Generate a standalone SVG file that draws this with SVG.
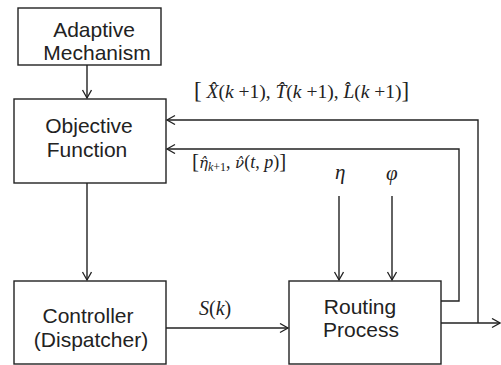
<svg xmlns="http://www.w3.org/2000/svg" width="501" height="365" viewBox="0 0 501 365">
<defs>
<marker id="arr" markerUnits="userSpaceOnUse" markerWidth="12" markerHeight="12" refX="9" refY="5" orient="auto">
<path d="M1,0.5 L9,5 L1,9.5" fill="none" stroke="#222" stroke-width="1.3"/>
</marker>
<style>
.box{fill:#fff;stroke:#222;stroke-width:1.4}
.lbl{font-family:"Liberation Sans",Arial,sans-serif;font-size:21px;fill:#222;text-anchor:middle}
.ln{fill:none;stroke:#222;stroke-width:1.4}
.m{font-family:"Liberation Serif","Times New Roman",serif;fill:#222}
.i{font-style:italic}
.dv{font-family:"DejaVu Serif",serif;font-size:15px}
</style>
</defs>
<rect width="501" height="365" fill="#fff"/>
<g id="adaptive">
<rect class="box" x="18" y="8" width="143" height="57"/>
<text class="lbl" x="94" y="37">Adaptive</text>
<text class="lbl" x="97" y="60">Mechanism</text>
</g>
<g id="objective">
<rect class="box" x="14" y="99" width="152" height="84"/>
<text class="lbl" x="89" y="133">Objective</text>
<text class="lbl" x="87" y="157">Function</text>
</g>
<g id="controller">
<rect class="box" x="14" y="281" width="152" height="83"/>
<text class="lbl" x="88" y="323">Controller</text>
<text class="lbl" x="91" y="347">(Dispatcher)</text>
</g>
<g id="routing">
<rect class="box" x="289" y="281" width="152" height="83"/>
<text class="lbl" x="360" y="314">Routing</text>
<text class="lbl" x="361" y="337">Process</text>
</g>
<g id="connectors">
<path class="ln" d="M87,65 V98" marker-end="url(#arr)"/>
<path class="ln" d="M87,183 V280" marker-end="url(#arr)"/>
<path class="ln" d="M166,328 H288" marker-end="url(#arr)"/>
<path class="ln" d="M339,196 V280" marker-end="url(#arr)"/>
<path class="ln" d="M392,196 V280" marker-end="url(#arr)"/>
<path class="ln" d="M441,301 H459 V149 H167" marker-end="url(#arr)"/>
<path class="ln" d="M478,323 V120 H167" marker-end="url(#arr)"/>
<path class="ln" d="M441,323 H500" marker-end="url(#arr)"/>
</g>
<g id="labels">
<text class="m" x="194" y="98" font-size="19.5"><tspan font-size="23">[</tspan> <tspan class="i">X̂</tspan>(<tspan class="i">k</tspan> +1), <tspan class="i">T̂</tspan>(<tspan class="i">k</tspan> +1), <tspan class="i">L̂</tspan>(<tspan class="i">k</tspan> +1)<tspan font-size="23">]</tspan></text>
<text class="m" x="192" y="168" font-size="18"><tspan font-size="21">[</tspan><tspan class="i dv">η̂</tspan><tspan font-size="12" dy="3"><tspan class="i">k</tspan>+1</tspan><tspan dy="-3">, </tspan><tspan class="i dv">ν̂</tspan>(<tspan class="i">t</tspan>, <tspan class="i">p</tspan>)<tspan font-size="21">]</tspan></text>
<text class="m i" x="335" y="179" font-size="21">η</text>
<text class="m i" x="386" y="180" font-size="21">φ</text>
<text class="m" x="199" y="315" font-size="20"><tspan class="i">S</tspan>(<tspan class="i">k</tspan>)</text>
</g>
</svg>
